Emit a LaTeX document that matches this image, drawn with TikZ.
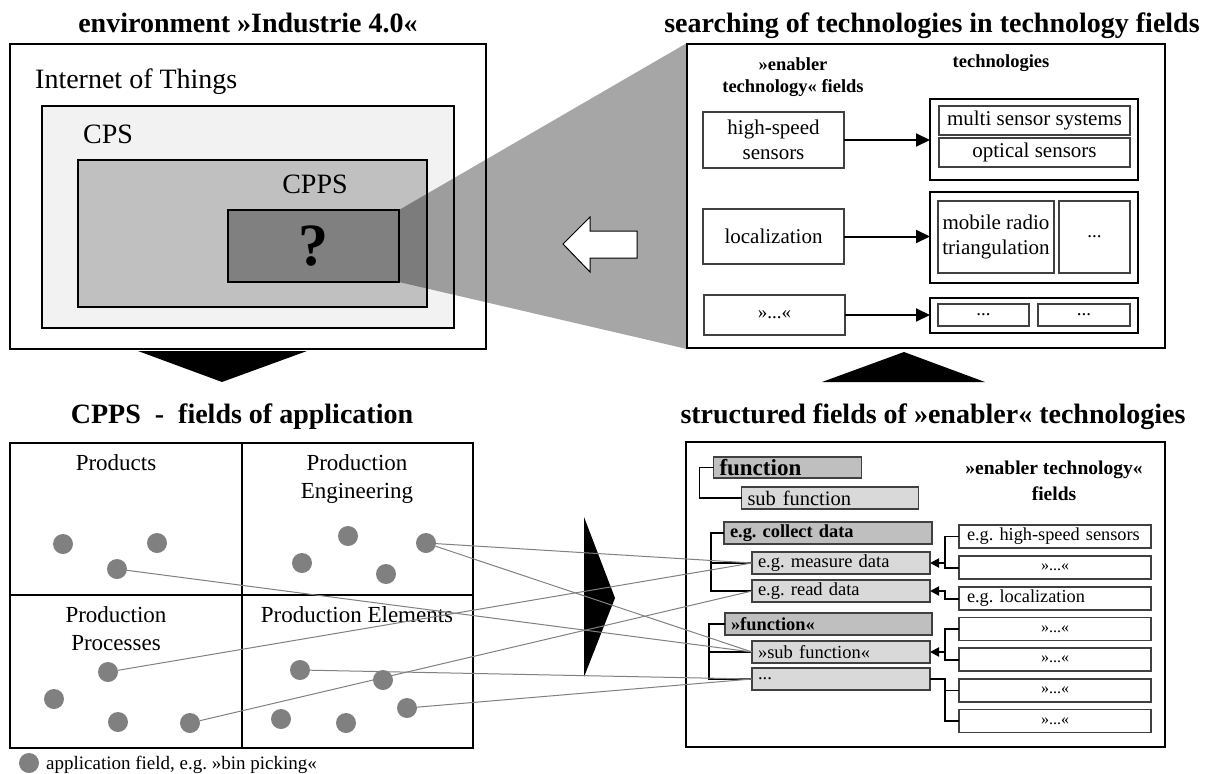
\documentclass[tikz,border=0pt]{standalone}
\usepackage{fontspec}
\setmainfont{Liberation Serif}
\usetikzlibrary{arrows.meta,calc}
\definecolor{cpsfill}{HTML}{F2F2F2}
\definecolor{cppsfill}{HTML}{C0C0C0}
\definecolor{qfill}{HTML}{808080}
\definecolor{dotgray}{HTML}{808080}
\definecolor{darkfn}{HTML}{BFBFBF}
\definecolor{lightfn}{HTML}{D9D9D9}
\definecolor{boxline}{HTML}{404040}
\newcommand\fsz[2]{\fontsize{#1}{#2}\selectfont}
\frenchspacing
\begin{document}
\begin{tikzpicture}[x=1pt,y=-1pt,
  box/.style={draw, inner sep=0pt, outer sep=0pt},
  heavybox/.style={box, line width=2pt},
  lightbox/.style={box, draw=boxline, line width=1.3pt},
  lb/.style={lightbox, align=left, inner xsep=6pt, inner ysep=0pt},
  ttl/.style={anchor=base, font=\bfseries\fsz{28}{32}},
  big/.style={font=\fsz{28}{32}},
  lab/.style={anchor=base, font=\fsz{23}{27}},
  hdr/.style={anchor=base, font=\bfseries\fsz{18.5}{22}},
  dot/.style={circle, fill=dotgray, minimum size=20pt, inner sep=0pt, outer sep=0pt},
  link/.style={draw=dotgray, line width=1pt},
  tree/.style={line width=1.2pt, draw=black},
  tarr/.style={line width=2pt, -{Triangle[length=9pt,width=9pt]}},
  bigarr/.style={line width=2pt, -{Triangle[length=14pt,width=13pt]}}
]
\useasboundingbox (0,0) rectangle (1219,774);

% ---------------- top left ----------------
\node[ttl] (t1) at (248,32) {environment »Industrie 4.0«};
\node[heavybox, fill=white, minimum width=476pt, minimum height=305pt] (iot) at (248,196.5) {};
\node[big, anchor=base west, inner sep=0pt] (iott) at (35,88) {Internet of Things};
\node[heavybox, fill=cpsfill, minimum width=412pt, minimum height=222pt] (cps) at (248,217) {};
\node[big, anchor=base west, inner sep=0pt] (cpst) at (83,143) {CPS};
\node[heavybox, fill=cppsfill, minimum width=349pt, minimum height=147pt] (cpps) at (252.5,233.5) {};
\node[big, anchor=base, inner sep=0pt] (cppst) at (315,193) {CPPS};
\node[heavybox, fill=qfill, minimum width=171pt, minimum height=72pt, font=\bfseries\fsz{60}{60}] (q) at (313.5,246) {?};

% funnel
\fill[black, opacity=0.35] (q.north east) -- (687,43) -- (687,349) -- (q.south east) -- cycle;
% white arrow
\draw[fill=white, line width=1pt] (563,244) -- (590,217) -- (590,231) -- (637,231) -- (637,258) -- (590,258) -- (590,272) -- cycle;

% ---------------- top right ----------------
\node[ttl] (t2) at (932,32) {searching of technologies in technology fields};
\node[heavybox, fill=white, minimum width=478pt, minimum height=304pt] (tr) at (926,196) {};
\node[hdr] (h1a) at (793,70) {»enabler};
\node[hdr] (h1b) at (793,92) {technology« fields};
\node[hdr] (h2) at (1001,67) {technologies};

\node[lightbox, minimum width=141pt, minimum height=56pt, align=center, font=\fsz{21}{25}] (hs) at (773.5,140) {high-speed\\sensors};
\node[lightbox, minimum width=141pt, minimum height=55pt, font=\fsz{21}{25}] (loc) at (773.5,236.5) {localization};
\node[lightbox, minimum width=141pt, minimum height=40pt, font=\fsz{19}{22}] (etc) at (774.5,315) {»...«};

\node[heavybox, minimum width=208pt, minimum height=81pt] (g1) at (1034,139.5) {};
\node[lightbox, minimum width=191pt, minimum height=29pt, font=\fsz{21}{25}] (ms) at (1034.5,120.5) {multi sensor systems};
\node[lightbox, minimum width=191pt, minimum height=29pt, font=\fsz{21}{25}] (os) at (1034.5,152.5) {optical sensors};

\node[heavybox, minimum width=208pt, minimum height=91pt] (g2) at (1034,237.5) {};
\node[lightbox, minimum width=116pt, minimum height=72pt, align=center, font=\fsz{21}{25}] (mr) at (996,237) {mobile radio\\triangulation};
\node[lightbox, minimum width=71pt, minimum height=72pt, font=\fsz{19}{22}] (e2) at (1094.5,237) {...};

\node[heavybox, minimum width=208pt, minimum height=35pt] (g3) at (1034,315.5) {};
\node[lightbox, minimum width=91pt, minimum height=22pt, font=\fsz{19}{22}] (e3a) at (983.5,315) {...};
\node[lightbox, minimum width=92pt, minimum height=22pt, font=\fsz{19}{22}] (e3b) at (1084,315) {...};

\draw[bigarr] (hs.east) -- (hs.east -| g1.west);
\draw[bigarr] (loc.east) -- (loc.east -| g2.west);
\draw[bigarr] (etc.east) -- (etc.east -| g3.west);

% big triangles
\fill[black] (138,351) -- (307,351) -- (222,382) -- cycle;
\fill[black] (822,382) -- (985,382) -- (904,352) -- cycle;
\fill[black] (584,517) -- (615,598) -- (584,677) -- cycle;

% ---------------- bottom left ----------------
\node[ttl] (t3) at (242,423) {CPPS\ \ -\ \ fields of application};
\node[heavybox, minimum width=232pt, minimum height=152pt] (cP) at (126,519) {};
\node[heavybox, minimum width=231pt, minimum height=152pt] (cE) at (357.5,519) {};
\node[heavybox, minimum width=232pt, minimum height=153pt] (cR) at (126,671.5) {};
\node[heavybox, minimum width=231pt, minimum height=153pt] (cL) at (357.5,671.5) {};
\node[lab] (lP) at (116,470) {Products};
\node[lab] (lE1) at (357,470) {Production};
\node[lab] (lE2) at (357,498) {Engineering};
\node[lab] (lR1) at (116,622) {Production};
\node[lab] (lR2) at (116,650) {Processes};
\node[lab] (lL) at (357,622) {Production Elements};

\node[dot] (P1) at (63,544) {};
\node[dot] (P2) at (157,543) {};
\node[dot] (P3) at (117,569) {};
\node[dot] (E1) at (348,536) {};
\node[dot] (E2) at (426,543) {};
\node[dot] (E3) at (302,563) {};
\node[dot] (E4) at (386,574) {};
\node[dot] (R1) at (108,672) {};
\node[dot] (R2) at (54,699) {};
\node[dot] (R3) at (118,722) {};
\node[dot] (R4) at (190,723) {};
\node[dot] (L1) at (300,670) {};
\node[dot] (L2) at (383,680) {};
\node[dot] (L3) at (407,708) {};
\node[dot] (L4) at (281,719) {};
\node[dot] (L5) at (346,723) {};

\node[dot] (leg) at (29,763) {};
\node[anchor=base west, inner sep=0pt, font=\fsz{19}{22}] (legt) at (46,769) {application field, e.g. »bin picking«};

% ---------------- bottom right ----------------
\node[ttl] (t4) at (933,423) {structured fields of »enabler« technologies};
\node[heavybox, fill=white, minimum width=479pt, minimum height=305pt] (br) at (925.5,594.5) {};

\node[lb, fill=darkfn, text width=136pt, minimum height=21pt, font=\bfseries\fsz{23}{25}] (fn) at (787.5,467.5) {function};
\node[lb, fill=lightfn, text width=165pt, minimum height=22pt, font=\fsz{20.5}{23}] (sub) at (830,498) {sub function};
\node[hdr, font=\bfseries\fsz{19.5}{22}] (h3a) at (1054,474) {»enabler technology«};
\node[hdr, font=\bfseries\fsz{19.5}{22}] (h3b) at (1054,500) {fields};

\node[lb, fill=darkfn, text width=196pt, minimum height=22pt, font=\bfseries\fsz{18.4}{21}] (cd) at (828,533) {e.g. collect data};
\node[lb, fill=lightfn, text width=166pt, minimum height=22pt, font=\fsz{18.5}{21}] (meas) at (841,563) {e.g. measure data};
\node[lb, fill=lightfn, text width=166pt, minimum height=22pt, font=\fsz{18.5}{21}] (read) at (841,591) {e.g. read data};
\node[lb, fill=darkfn, text width=195pt, minimum height=22pt, font=\bfseries\fsz{18.4}{21}] (fq) at (828.5,624) {»function«};
\node[lb, fill=lightfn, text width=166pt, minimum height=22pt, font=\fsz{18.5}{21}] (subq) at (841,652) {»sub function«};
\node[lb, fill=lightfn, text width=166pt, minimum height=22pt, font=\fsz{18.5}{21}] (dd) at (841,679) {...};

\node[lb, fill=white, text width=176pt, inner xsep=8pt, minimum height=23pt, font=\fsz{18.3}{21}] (r1) at (1055,536.5) {e.g. high-speed sensors};
\node[lightbox, fill=white, minimum width=192pt, minimum height=23pt, font=\fsz{16}{18}] (r2) at (1055,567.5) {»...«};
\node[lb, fill=white, text width=176pt, inner xsep=8pt, minimum height=23pt, font=\fsz{18.3}{21}] (r3) at (1055,598.5) {e.g. localization};
\node[lightbox, fill=white, minimum width=192pt, minimum height=23pt, font=\fsz{16}{18}] (r4) at (1055,629) {»...«};
\node[lightbox, fill=white, minimum width=192pt, minimum height=23pt, font=\fsz{16}{18}] (r5) at (1055,659.5) {»...«};
\node[lightbox, fill=white, minimum width=192pt, minimum height=23pt, font=\fsz{16}{18}] (r6) at (1055,690.5) {»...«};
\node[lightbox, fill=white, minimum width=192pt, minimum height=23pt, font=\fsz{16}{18}] (r7) at (1055,721) {»...«};

% tree connectors
\draw[tree] (fn.west) -- ++(-14,0) coordinate (fnx) |- (sub.west);
\draw[tree] (cd.west) -- ++(-13,0) coordinate (cdx) |- (read.west);
\draw[tree] (cdx |- meas.west) -- (meas.west);
\draw[tree] (fq.west) -- ++(-16,0) coordinate (fqx) |- (dd.west);
\draw[tree] (fqx |- subq.west) -- (subq.west);

\draw[tree] (r1.west) -- ++(-14,0) coordinate (r1x) -- (r1x |- r2.west);
\draw[tarr] (r2.west) -- (r1x |- r2.west) -- (r1x |- meas.east) -- (meas.east);
\draw[tarr] (r3.west) -- ++(-14,0) coordinate (r3x) -- (r3x |- read.east) -- (read.east);
\draw[tree] (r4.west) -- ++(-14,0) coordinate (r4x) -- (r4x |- r5.west);
\draw[tarr] (r5.west) -- (r4x |- r5.west) -- (r4x |- subq.east) -- (subq.east);
\draw[tree] (dd.east) -- ++(15,0) coordinate (ddx) |- (r7.west);
\draw[tree] (ddx |- r6.west) -- (r6.west);

% links from application fields
\draw[link] (E2) -- (meas.west);
\draw[link] (E2) -- (subq.west);
\draw[link] (P3) -- (subq.west);
\draw[link] (R1) -- (meas.west);
\draw[link] (R4) -- (read.west);
\draw[link] (L1) -- (dd.west);
\draw[link] (L3) -- (dd.west);
\end{tikzpicture}
\end{document}
